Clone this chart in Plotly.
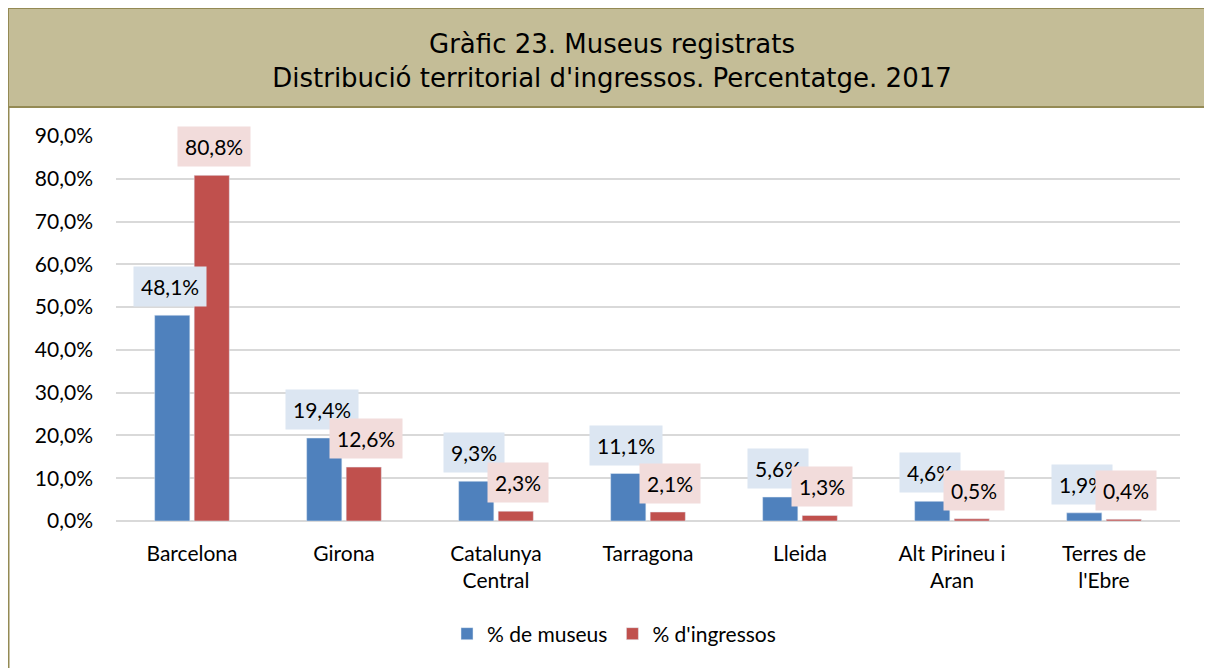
import plotly.graph_objects as go

categories = ["Barcelona", "Girona", "Catalunya<br>Central", "Tarragona", "Lleida",
              "Alt Pirineu i<br>Aran", "Terres de<br>l'Ebre"]
museus = [48.1, 19.4, 9.3, 11.1, 5.6, 4.6, 1.9]
ingressos = [80.8, 12.6, 2.3, 2.1, 1.3, 0.5, 0.4]
series_names = ["% de museus", "% d'ingressos"]
tick_vals = [0, 10, 20, 30, 40, 50, 60, 70, 80, 90]
tick_text = ["0,0%", "10,0%", "20,0%", "30,0%", "40,0%", "50,0%", "60,0%", "70,0%", "80,0%", "90,0%"]

# page body has an 8px margin, so the figure is drawn at an (8, 8) offset
W, H = 1204, 660
ML, MR, MT, MB = 108, 32, 128, 147
PW, PH = W - ML - MR, H - MT - MB

BLUE, RED = "#4f81bd", "#c0504d"
BLUE_BG, RED_BG = "#dce6f2", "#f2dcdb"
OLIVE_FILL, OLIVE_LINE = "#c4bd97", "#948a54"
LABEL_FONT = "Lato, 'Open Sans', sans-serif"
FS = 21


def px_to_paper_x(px):
    return (px - ML) / PW


def px_to_paper_y(py):
    return (H - MB - py) / PH


def fmt(v):
    return f"{v:.1f}".replace(".", ",") + "%"


fig = go.Figure()
fig.add_bar(x=categories, y=museus, name=series_names[0], marker_color=BLUE)
fig.add_bar(x=categories, y=ingressos, name=series_names[1], marker_color=RED)

annotations = []
for series, bg, shift in [(museus, BLUE_BG, -22), (ingressos, RED_BG, 22)]:
    for c, v in zip(categories, series):
        annotations.append(dict(
            x=c, y=v, xref="x", yref="y", text=fmt(v), showarrow=False,
            xanchor="center", yanchor="bottom", xshift=shift, yshift=8,
            bgcolor=bg, borderpad=7, font=dict(family=LABEL_FONT, size=FS, color="#000000"),
        ))

shapes = [
    dict(type="rect", xref="paper", yref="paper",
         x0=px_to_paper_x(0), x1=px_to_paper_x(1203), y0=px_to_paper_y(99), y1=px_to_paper_y(0),
         fillcolor=OLIVE_FILL, line=dict(color=OLIVE_LINE, width=2), layer="below"),
    dict(type="line", xref="paper", yref="paper",
         x0=px_to_paper_x(0), x1=px_to_paper_x(0), y0=px_to_paper_y(99), y1=px_to_paper_y(662),
         line=dict(color=OLIVE_LINE, width=3)),
]

fig.update_layout(
    width=W, height=H,
    margin=dict(l=ML, r=MR, t=MT, b=MB),
    paper_bgcolor="white", plot_bgcolor="white",
    barmode="group", bargap=0.48, bargroupgap=0.11,
    title=dict(text="Gràfic 23. Museus registrats<br>Distribució territorial d'ingressos. Percentatge. 2017",
               x=604 / W, xanchor="center", y=1 - 45 / H, yanchor="middle",
               font=dict(family="DejaVu Sans", size=26, color="#000000")),
    xaxis=dict(showgrid=False, showline=False, tickfont=dict(family=LABEL_FONT, size=FS, color="#000000"),
               ticks="", ticklabelstandoff=18),
    yaxis=dict(range=[0, 90], tickvals=tick_vals, ticktext=tick_text, showgrid=True,
               gridcolor="#d9d9d9", gridwidth=2, zeroline=True, zerolinecolor="#d9d9d9", zerolinewidth=2,
               showline=False, ticks="", ticklabelstandoff=22,
               tickfont=dict(family=LABEL_FONT, size=FS, color="#000000")),
    legend=dict(orientation="h", x=px_to_paper_x(606), xanchor="center", y=px_to_paper_y(626),
                yanchor="middle", font=dict(family=LABEL_FONT, size=FS, color="#000000"),
                bgcolor="rgba(0,0,0,0)", itemwidth=30),
    annotations=annotations, shapes=shapes,
)

fig.write_html("out.html")
